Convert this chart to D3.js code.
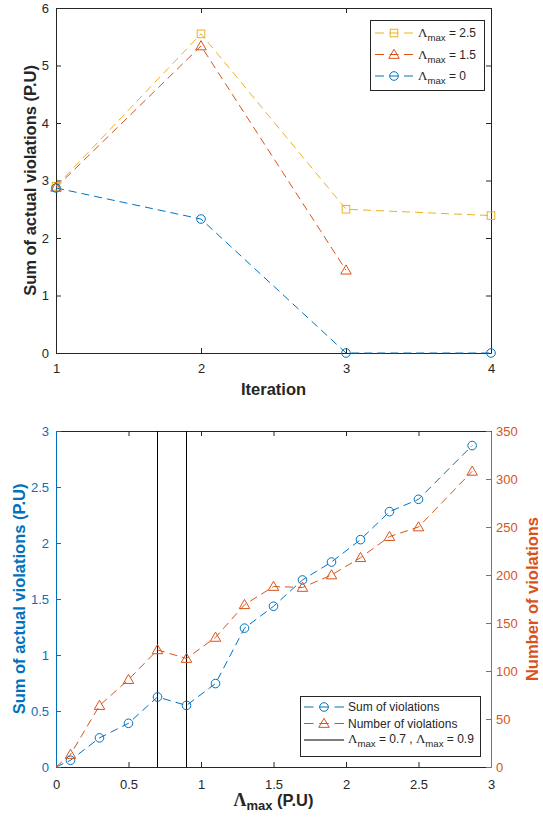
<!DOCTYPE html>
<html>
<head>
<meta charset="utf-8">
<script src="https://cdn.jsdelivr.net/npm/d3@7/dist/d3.min.js"></script>
<style>
  body { margin: 0; background: #fff; }
  svg { display: block; font-family: "Liberation Sans", Arial, sans-serif; }
</style>
</head>
<body>
<div id="chart"></div>
<script>
// ---- data: top panel (iterations) ----
const iterations = [1, 2, 3, 4];
const lam25 = [2.90, 5.55, 2.50, 2.39];
const lam15 = [2.88, 5.34, 1.44];
const lam0 = [2.87, 2.33, 0, 0];
const topYTicks = [0, 1, 2, 3, 4, 5, 6];

// ---- data: bottom panel (lambda max sweep) ----
const lambdaMax = [0, 0.1, 0.3, 0.5, 0.7, 0.9, 1.1, 1.3, 1.5, 1.7, 1.9, 2.1, 2.3, 2.5, 2.87];
const sumViol = [0, 0.06, 0.26, 0.39, 0.625, 0.55, 0.745, 1.24, 1.435, 1.67, 1.83, 2.03, 2.28, 2.39, 2.87];
const numViol = [0, 13, 64, 91, 122, 113, 135, 169, 188, 187, 200, 218, 240, 250, 308];
const markLines = [0.7, 0.9];
const botXTicks = [0, 0.5, 1, 1.5, 2, 2.5, 3];
const botLTicks = [0, 0.5, 1, 1.5, 2, 2.5, 3];
const botRTicks = [0, 50, 100, 150, 200, 250, 300, 350];

const BLUE = '#0072BD', ORANGE = '#D95319', YELLOW = '#EDB120', INK = '#262626';
const DASH = '8,5';

const svg = d3.select('#chart').append('svg')
  .attr('width', 543).attr('height', 821);

// marker helpers
function marker(g, type, x, y, color) {
  if (type === 'circle') {
    g.append('circle').attr('cx', x).attr('cy', y).attr('r', 4.3)
      .attr('fill', 'none').attr('stroke', color).attr('stroke-width', 1);
  } else if (type === 'square') {
    g.append('rect').attr('x', x - 3.8).attr('y', y - 3.8).attr('width', 7.6).attr('height', 7.6)
      .attr('fill', 'none').attr('stroke', color).attr('stroke-width', 1);
  } else if (type === 'triangle') {
    g.append('path').attr('d', d3.symbol(d3.symbolTriangle, 48)())
      .attr('transform', `translate(${x},${y + 0.8})`)
      .attr('fill', 'none').attr('stroke', color).attr('stroke-width', 1);
  }
}

function legendText(sel, x, y, size) {
  return sel.append('text').attr('x', x).attr('y', y)
    .attr('font-size', size).attr('fill', INK);
}

function addLambda(t, size) {
  t.append('tspan').attr('font-family', '"Liberation Serif", serif').attr('font-weight', 'normal')
    .attr('font-size', size + 1).text('Λ');
  t.append('tspan').attr('font-size', size * 0.8).attr('dy', 4).text('max');
  return t;
}

function styleAxis(g, color) {
  g.selectAll('path').attr('stroke', color).attr('stroke-width', 1);
  g.selectAll('line').attr('stroke', color).attr('stroke-width', 1);
  g.selectAll('text').attr('fill', color).attr('font-size', 13)
    .attr('font-family', '"Liberation Sans", Arial, sans-serif');
}

// ================= TOP PANEL =================
const T = { x0: 56, x1: 491, y0: 8, y1: 353 };
const xT = d3.scaleLinear().domain([1, 4]).range([T.x0, T.x1]);
const yT = d3.scaleLinear().domain([0, 6]).range([T.y1, T.y0]);

const topG = svg.append('g');

topG.append('g').attr('transform', `translate(0,${T.y1})`)
  .call(d3.axisBottom(xT).tickValues(iterations).tickSize(-5).tickSizeOuter(0).tickPadding(11).tickFormat(d3.format('d')))
  .call(g => styleAxis(g, INK));
topG.append('g').attr('transform', `translate(0,${T.y0})`)
  .call(d3.axisTop(xT).tickValues(iterations).tickSize(-5).tickSizeOuter(0).tickFormat(''))
  .call(g => styleAxis(g, INK));
topG.append('g').attr('transform', `translate(${T.x0},0)`)
  .call(d3.axisLeft(yT).tickValues(topYTicks).tickSize(-5).tickSizeOuter(0).tickPadding(7).tickFormat(d3.format('d')))
  .call(g => styleAxis(g, INK));
topG.append('g').attr('transform', `translate(${T.x1},0)`)
  .call(d3.axisRight(yT).tickValues(topYTicks).tickSize(-5).tickSizeOuter(0).tickFormat(''))
  .call(g => styleAxis(g, INK));

const topSeries = [
  { vals: lam25, color: YELLOW, mk: 'square' },
  { vals: lam15, color: ORANGE, mk: 'triangle' },
  { vals: lam0, color: BLUE, mk: 'circle' }
];
const lineT = d3.line().x((d, i) => xT(iterations[i])).y(d => yT(d));
topSeries.forEach(s => {
  topG.append('path').datum(s.vals).attr('d', lineT)
    .attr('fill', 'none').attr('stroke', s.color).attr('stroke-width', 1).attr('stroke-dasharray', DASH);
});
topSeries.forEach(s => {
  const g = topG.append('g');
  s.vals.forEach((v, i) => marker(g, s.mk, xT(iterations[i]), yT(v), s.color));
});

topG.append('text').attr('x', (T.x0 + T.x1) / 2).attr('y', 395).attr('text-anchor', 'middle')
  .attr('font-size', 16.5).attr('font-weight', 'bold').attr('fill', INK).text('Iteration');
topG.append('text').attr('transform', `translate(36,${(T.y0 + T.y1) / 2}) rotate(-90)`)
  .attr('text-anchor', 'middle').attr('font-size', 16.5).attr('font-weight', 'bold').attr('fill', INK)
  .text('Sum of actual violations (P.U)');

// top legend
const legT = topG.append('g');
legT.append('rect').attr('x', 370.5).attr('y', 20.5).attr('width', 114).attr('height', 70)
  .attr('fill', '#fff').attr('stroke', INK).attr('stroke-width', 1);
const legTitems = [
  { label: ' = 2.5', color: YELLOW, mk: 'square' },
  { label: ' = 1.5', color: ORANGE, mk: 'triangle' },
  { label: ' = 0', color: BLUE, mk: 'circle' }
];
legTitems.forEach((it, i) => {
  const cy = 33 + i * 21.5;
  legT.append('line').attr('x1', 375).attr('x2', 413).attr('y1', cy).attr('y2', cy)
    .attr('stroke', it.color).attr('stroke-width', 1).attr('stroke-dasharray', '9,5.5');
  marker(legT, it.mk, 394, cy, it.color);
  const t = legendText(legT, 418, cy + 4, 12);
  addLambda(t, 12);
  t.append('tspan').attr('dy', -4).text(it.label);
});

// ================= BOTTOM PANEL =================
const B = { x0: 56, x1: 491, y0: 431, y1: 767 };
const xB = d3.scaleLinear().domain([0, 3]).range([B.x0, B.x1]);
const yL = d3.scaleLinear().domain([0, 3]).range([B.y1, B.y0]);
const yR = d3.scaleLinear().domain([0, 350]).range([B.y1, B.y0]);

const bot = svg.append('g');

bot.append('g').attr('transform', `translate(0,${B.y1})`)
  .call(d3.axisBottom(xB).tickValues(botXTicks).tickSize(-5).tickSizeOuter(0).tickPadding(13).tickFormat(d3.format('~g')))
  .call(g => styleAxis(g, INK));
bot.append('g').attr('transform', `translate(0,${B.y0})`)
  .call(d3.axisTop(xB).tickValues(botXTicks).tickSize(-5).tickSizeOuter(0).tickFormat(''))
  .call(g => styleAxis(g, INK));
bot.append('g').attr('transform', `translate(${B.x0},0)`)
  .call(d3.axisLeft(yL).tickValues(botLTicks).tickSize(-5).tickSizeOuter(0).tickPadding(7).tickFormat(d3.format('~g')))
  .call(g => styleAxis(g, BLUE));
bot.append('g').attr('transform', `translate(${B.x1},0)`)
  .call(d3.axisRight(yR).tickValues(botRTicks).tickSize(-5).tickSizeOuter(0).tickPadding(5).tickFormat(d3.format('d')))
  .call(g => styleAxis(g, ORANGE));

// vertical markers
bot.selectAll('.vline').data(markLines).enter().append('line')
  .attr('x1', d => xB(d)).attr('x2', d => xB(d)).attr('y1', B.y0).attr('y2', B.y1)
  .attr('stroke', '#000').attr('stroke-width', 1);

const lineL = d3.line().x((d, i) => xB(lambdaMax[i])).y(d => yL(d));
const lineR = d3.line().x((d, i) => xB(lambdaMax[i])).y(d => yR(d));
bot.append('path').datum(sumViol).attr('d', lineL).attr('fill', 'none')
  .attr('stroke', BLUE).attr('stroke-width', 1).attr('stroke-dasharray', DASH);
bot.append('path').datum(numViol).attr('d', lineR).attr('fill', 'none')
  .attr('stroke', ORANGE).attr('stroke-width', 1).attr('stroke-dasharray', DASH);
const mkB = bot.append('g');
sumViol.forEach((v, i) => { if (i > 0) marker(mkB, 'circle', xB(lambdaMax[i]), yL(v), BLUE); });
numViol.forEach((v, i) => { if (i > 0) marker(mkB, 'triangle', xB(lambdaMax[i]), yR(v), ORANGE); });

// axis labels
const xl = bot.append('text').attr('x', (B.x0 + B.x1) / 2).attr('y', 806).attr('text-anchor', 'middle')
  .attr('font-size', 16.5).attr('font-weight', 'bold').attr('fill', INK);
xl.append('tspan').attr('font-family', '"Liberation Serif", serif').attr('font-size', 18).text('Λ');
xl.append('tspan').attr('font-size', 13).attr('dy', 4).text('max');
xl.append('tspan').attr('dy', -4).text(' (P.U)');

bot.append('text').attr('transform', `translate(25,${(B.y0 + B.y1) / 2}) rotate(-90)`)
  .attr('text-anchor', 'middle').attr('font-size', 16.5).attr('font-weight', 'bold').attr('fill', BLUE)
  .text('Sum of actual violations (P.U)');
bot.append('text').attr('transform', `translate(538,${(B.y0 + B.y1) / 2}) rotate(-90)`)
  .attr('text-anchor', 'middle').attr('font-size', 16.5).attr('font-weight', 'bold').attr('fill', ORANGE)
  .text('Number of violations');

// bottom legend
const legB = bot.append('g');
legB.append('rect').attr('x', 300.5).attr('y', 696.5).attr('width', 180).attr('height', 60)
  .attr('fill', '#fff').attr('stroke', INK).attr('stroke-width', 1);
const legBitems = [
  { label: 'Sum of violations', color: BLUE, mk: 'circle', dash: '9.5,5.75' },
  { label: 'Number of violations', color: ORANGE, mk: 'triangle', dash: '9.5,5.75' },
  { label: null, color: '#000', mk: null, dash: null }
];
legBitems.forEach((it, i) => {
  const cy = 707 + i * 16.5;
  const ln = legB.append('line').attr('x1', 304).attr('x2', 344).attr('y1', cy).attr('y2', cy)
    .attr('stroke', it.color).attr('stroke-width', it.mk ? 1 : 1.2);
  if (it.dash) ln.attr('stroke-dasharray', it.dash);
  if (it.mk) marker(legB, it.mk, 324, cy, it.color);
  if (it.label) {
    legendText(legB, 348, cy + 4, 12).text(it.label);
  } else {
    const t = legendText(legB, 348, cy + 3, 12);
    addLambda(t, 12);
    t.append('tspan').attr('dy', -4).text(' = 0.7 , ');
    addLambda(t, 12);
    t.append('tspan').attr('dy', -4).text(' = 0.9');
  }
});
</script>
</body>
</html>
